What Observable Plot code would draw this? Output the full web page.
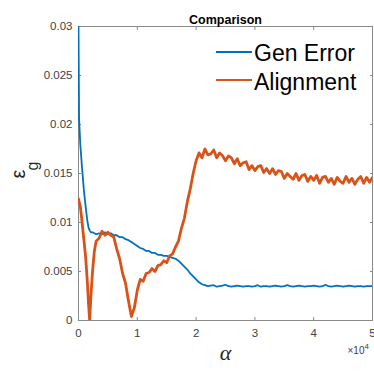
<!DOCTYPE html>
<html><head><meta charset="utf-8">
<script src="https://cdn.jsdelivr.net/npm/d3@7"></script>
<script src="https://cdn.jsdelivr.net/npm/@observablehq/plot@0.6"></script>
<style>
html,body{margin:0;padding:0;background:#fff;}
#wrap{position:relative;width:374px;height:375px;font-family:"Liberation Sans",Arial,sans-serif;}
.sw{position:absolute;height:2px;}
.lt{position:absolute;font-size:23px;line-height:23px;color:#000;white-space:nowrap;}
</style></head><body><div id="wrap"></div>
<script>
const alpha = [0,100,300,600,900,1200,1500,1700,1900,2100,2400,2700,3000,
3500,4000,4500,5000,5500,6000,6500,7000,7500,8000,8500,9000,9500,10000,
10500,11000,11500,12000,12500,13000,13500,14000,14500,15000,15500,16000,16500,17000,
17500,18000,18500,19000,19500,20000,20500,21000,21500,22000,22500,23000,23500,24000,
24500,25000,25500,26000,26500,27000,27500,28000,28500,29000,29500,30000,30500,31000,
31500,32000,32500,33000,33500,34000,34500,35000,35500,36000,36500,37000,37500,38000,
38500,39000,39500,40000,40500,41000,41500,42000,42500,43000,43500,44000,44500,45000,
45500,46000,46500,47000,47500,48000,48500,49000,49500,50000];

const genError = [0.0300,0.0206,0.0180,0.0156,0.0134,0.0117,0.0102,0.0095,0.0092,0.0090,0.0090,0.0089,0.0088,
0.0089,0.0088,0.0090,0.0088,0.0089,0.0087,0.0087,0.0085,0.0085,0.0083,0.0082,0.0080,0.0078,0.0076,
0.0074,0.0073,0.0071,0.0071,0.0069,0.0069,0.0067,0.0067,0.0066,0.0066,0.0065,0.0064,0.0063,0.0061,
0.0058,0.0055,0.0052,0.0048,0.0045,0.0042,0.0039,0.0037,0.0036,0.0035,0.00355,0.0036,0.00345,0.0035,
0.00355,0.00365,0.0035,0.00345,0.0035,0.00355,0.0035,0.00345,0.0035,0.0035,0.00345,0.0035,0.0036,0.00345,
0.0035,0.0035,0.00345,0.0035,0.00355,0.0035,0.00345,0.0035,0.0036,0.0035,0.00345,0.0035,0.00355,0.0035,
0.00345,0.0035,0.0035,0.00355,0.0035,0.00345,0.0035,0.00365,0.0035,0.00345,0.0035,0.00355,0.0035,0.00345,
0.0035,0.00355,0.0035,0.00345,0.0035,0.0035,0.00345,0.0035,0.0035,0.0035];

const alignment = [0.0124,0.0121,0.0117,0.0101,0.0083,0.0066,0.0040,0.0018,0.0000,0.0024,0.0051,0.0071,0.0081,
0.0084,0.0091,0.0087,0.0090,0.0087,0.0085,0.0073,0.0063,0.0048,0.0038,0.0020,0.0004,0.0013,0.0031,
0.0042,0.0040,0.0048,0.0049,0.0053,0.0050,0.0056,0.0057,0.0061,0.0059,0.0066,0.0068,0.0075,0.0081,
0.0094,0.0104,0.0121,0.0134,0.0150,0.0163,0.0171,0.0166,0.0175,0.0169,0.0170,0.0174,0.0166,0.0171,
0.0168,0.0163,0.0168,0.0166,0.0160,0.0165,0.0158,0.0161,0.0162,0.0154,0.0158,0.0153,0.0157,0.0158,
0.0151,0.0155,0.0150,0.0155,0.0149,0.0153,0.0152,0.0145,0.0150,0.0147,0.0144,0.0150,0.0143,0.0148,
0.0149,0.0142,0.0147,0.0143,0.0148,0.0140,0.0146,0.0147,0.0141,0.0145,0.0139,0.0146,0.0142,0.0140,
0.0147,0.0141,0.0145,0.0139,0.0144,0.0147,0.0140,0.0146,0.0141,0.0146];

const seriesNames = ["Gen Error", "Alignment"];
const seriesColors = ["#0072BD", "#D95319"];
const xTicks = [0, 10000, 20000, 30000, 40000, 50000];
const xTickLabels = ["0", "1", "2", "3", "4", "5"];
const yTicks = [0, 0.005, 0.01, 0.015, 0.02, 0.025, 0.03];
const yTickLabels = ["0", "0.005", "0.01", "0.015", "0.02", "0.025", "0.03"];
const titleText = "Comparison";
const xLabel = "α";
const yLabelMain = "ε";
const yLabelSub = "g";
const xExponentBase = "×10";
const xExponent = "4";

const axisGray = "#8a8a8a";
const labelGray = "#404040";

const chart = Plot.plot({
  width: 374, height: 375,
  marginLeft: 78, marginRight: 2, marginTop: 26, marginBottom: 55,
  x: {domain: [0, 50000]},
  y: {domain: [0, 0.03]},
  style: {fontFamily: "'Liberation Sans', Arial, sans-serif", fontSize: "11.5px", background: "#fff"},
  marks: [
    Plot.frame({stroke: axisGray}),
    Plot.axisX(xTicks, {anchor: "bottom", tickSize: -3, tickPadding: 11, stroke: axisGray, fill: labelGray,
      tickFormat: d => xTickLabels[xTicks.indexOf(d)], label: null}),
    Plot.axisX(xTicks, {anchor: "top", tickSize: -3, stroke: axisGray, tickFormat: () => "", label: null}),
    Plot.axisY(yTicks, {anchor: "left", tickSize: -3, tickPadding: 9, stroke: axisGray, fill: labelGray,
      tickFormat: d => yTickLabels[yTicks.indexOf(d)], label: null}),
    Plot.axisY(yTicks, {anchor: "right", tickSize: -3, stroke: axisGray, tickFormat: () => "", label: null}),
    Plot.line(alpha, {x: d => d, y: (d, i) => genError[i], stroke: seriesColors[0], strokeWidth: 1.8, clip: true}),
    Plot.line(alpha, {x: d => d, y: (d, i) => alignment[i], stroke: seriesColors[1], strokeWidth: 2.8, clip: true}),
    Plot.text([titleText], {frameAnchor: "top", dy: -11, fontWeight: "bold", fontSize: 12.5, fill: "#000"}),
    Plot.text([xLabel], {frameAnchor: "bottom", dy: 39, fontSize: 22, fontStyle: "italic", fontFamily: "'Liberation Serif', serif", fill: "#262626"}),
    Plot.text([yLabelMain], {frameAnchor: "left", rotate: -90, dx: -60, dy: 5, fontSize: 20, fill: "#262626"}),
    Plot.text([yLabelSub], {frameAnchor: "left", rotate: -90, dx: -46, dy: -3, fontSize: 16, fill: "#262626"}),
    Plot.text([xExponentBase], {frameAnchor: "bottom-right", textAnchor: "end", dx: -8, dy: 33, fontSize: 10, fill: labelGray}),
    Plot.text([xExponent], {frameAnchor: "bottom-right", textAnchor: "start", dx: -8, dy: 28, fontSize: 8, fill: labelGray})
  ]
});
const wrap = document.getElementById("wrap");
wrap.appendChild(chart);

// legend (inside the axes, top right, no box)
const legendTop = [42, 70.5];
const swatchTop = [51, 79];
seriesNames.forEach((name, i) => {
  const sw = document.createElement("div");
  sw.className = "sw";
  sw.style.left = "216px"; sw.style.width = "36px";
  sw.style.top = swatchTop[i] + "px";
  sw.style.background = seriesColors[i];
  wrap.appendChild(sw);
  const t = document.createElement("div");
  t.className = "lt";
  t.style.left = "254px";
  t.style.top = legendTop[i] + "px";
  t.textContent = name;
  wrap.appendChild(t);
});
</script>
</body></html>
